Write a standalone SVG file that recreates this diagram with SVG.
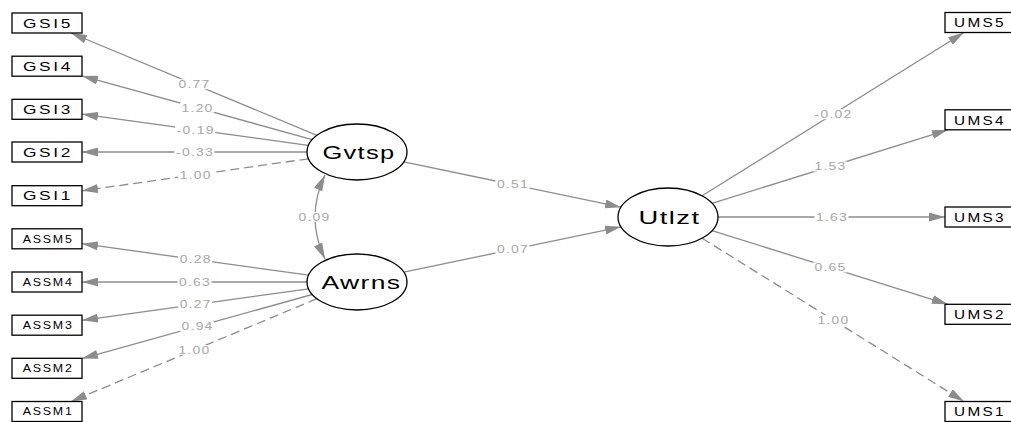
<svg xmlns="http://www.w3.org/2000/svg" width="1011" height="422" viewBox="0 0 1011 422">
<defs>
<style>
.box{fill:#fff;stroke:#000;stroke-width:1.3}
.lat{fill:#fff;stroke:#000;stroke-width:1.3}
.bt{font-family:"Liberation Sans",Arial,sans-serif;font-size:13px;letter-spacing:2px;fill:#000;text-anchor:middle}
.bs{font-family:"Liberation Sans",Arial,sans-serif;font-size:10.5px;letter-spacing:1.5px;fill:#000;text-anchor:middle}
.lt{font-family:"Liberation Sans",Arial,sans-serif;font-size:19px;letter-spacing:1px;fill:#000;text-anchor:middle}
.e{fill:none;stroke:#8c8c8c;stroke-width:1.3;marker-end:url(#ah)}
.d{stroke-dasharray:9 5}
.lb{fill:#fff}
.el{font-family:"Liberation Sans",Arial,sans-serif;font-size:11px;letter-spacing:1px;fill:#a6a6a6;text-anchor:middle}
</style>
<marker id="ah" viewBox="0 0 16 9" refX="16" refY="4.5" markerWidth="16" markerHeight="9" markerUnits="userSpaceOnUse" orient="auto-start-reverse">
<path d="M0,0 L16,4.5 L0,9 z" fill="#8c8c8c"/>
</marker>
</defs>
<rect width="1011" height="422" fill="#fff"/>
<g id="connectors">
<path class="e" d="M316.9,135.3 L71,33"/>
<path class="e" d="M312.2,139.6 L82,75.9"/>
<path class="e" d="M308.5,145.3 L82,114.1"/>
<path class="e" d="M307,152 L82,152"/>
<path class="e d" d="M308.5,158.8 L82,190.8"/>
<path class="e" d="M308.5,275.2 L82,243.7"/>
<path class="e" d="M307,282 L82,282"/>
<path class="e" d="M308.5,288.8 L82,320.3"/>
<path class="e" d="M312.2,294.5 L82,358.6"/>
<path class="e d" d="M316.9,298.7 L70.9,401.5"/>
<path class="e" d="M702.1,195.8 L964,32.5"/>
<path class="e" d="M712,203.3 L947.9,129.8"/>
<path class="e" d="M718,217 L945,217"/>
<path class="e" d="M712,230.7 L947.9,304.3"/>
<path class="e d" d="M702.1,238.2 L964,401.5"/>
<path class="e" d="M403.8,161.8 L621,207.2"/>
<path class="e" d="M403.8,272.2 L621,226.8"/>
<path class="e" d="M325,175 Q305,217 325,259" style="marker-start:url(#ah)"/>
<g id="edge-labels">
<rect class="lb" x="177" y="79.2" width="34" height="10"/><text class="el" x="194.5" y="88" textLength="32" lengthAdjust="spacingAndGlyphs">0.77</text>
<rect class="lb" x="180.1" y="102.7" width="34" height="10"/><text class="el" x="197.6" y="111.5" textLength="32" lengthAdjust="spacingAndGlyphs">1.20</text>
<rect class="lb" x="175.2" y="124.7" width="40" height="10"/><text class="el" x="195.7" y="133.5" textLength="38" lengthAdjust="spacingAndGlyphs">-0.19</text>
<rect class="lb" x="174.5" y="147" width="40" height="10"/><text class="el" x="195" y="155.8" textLength="38" lengthAdjust="spacingAndGlyphs">-0.33</text>
<rect class="lb" x="178.2" y="169.8" width="34" height="10"/><text class="el" x="195.7" y="178.6" textLength="32" lengthAdjust="spacingAndGlyphs">1.00</text>
<rect class="lb" x="178.2" y="254.5" width="34" height="10"/><text class="el" x="195.7" y="263.3" textLength="32" lengthAdjust="spacingAndGlyphs">0.28</text>
<rect class="lb" x="177.5" y="277" width="34" height="10"/><text class="el" x="195" y="285.8" textLength="32" lengthAdjust="spacingAndGlyphs">0.63</text>
<rect class="lb" x="178.2" y="299.5" width="34" height="10"/><text class="el" x="195.7" y="308.3" textLength="32" lengthAdjust="spacingAndGlyphs">0.27</text>
<rect class="lb" x="180.1" y="321.5" width="34" height="10"/><text class="el" x="197.6" y="330.3" textLength="32" lengthAdjust="spacingAndGlyphs">0.94</text>
<rect class="lb" x="176.9" y="345.1" width="34" height="10"/><text class="el" x="194.4" y="353.9" textLength="32" lengthAdjust="spacingAndGlyphs">1.00</text>
<rect class="lb" x="813" y="109.2" width="40" height="10"/><text class="el" x="833.5" y="118" textLength="38" lengthAdjust="spacingAndGlyphs">-0.02</text>
<rect class="lb" x="813" y="161.5" width="34" height="10"/><text class="el" x="830.5" y="170.3" textLength="32" lengthAdjust="spacingAndGlyphs">1.53</text>
<rect class="lb" x="814.5" y="212" width="34" height="10"/><text class="el" x="832" y="220.8" textLength="32" lengthAdjust="spacingAndGlyphs">1.63</text>
<rect class="lb" x="813" y="262.5" width="34" height="10"/><text class="el" x="830.5" y="271.3" textLength="32" lengthAdjust="spacingAndGlyphs">0.65</text>
<rect class="lb" x="816" y="314.9" width="34" height="10"/><text class="el" x="833.5" y="323.7" textLength="32" lengthAdjust="spacingAndGlyphs">1.00</text>
<rect class="lb" x="495.4" y="179.5" width="34" height="10"/><text class="el" x="512.9" y="188.3" textLength="32" lengthAdjust="spacingAndGlyphs">0.51</text>
<rect class="lb" x="495.4" y="244.5" width="34" height="10"/><text class="el" x="512.9" y="253.3" textLength="32" lengthAdjust="spacingAndGlyphs">0.07</text>
<rect class="lb" x="297" y="212" width="34" height="10"/><text class="el" x="314.5" y="220.8" textLength="32" lengthAdjust="spacingAndGlyphs">0.09</text>
</g>
</g>
<g id="GSI5"><rect class="box" x="12" y="13" width="70" height="20"/><text class="bt" x="48" y="27.7" textLength="50" lengthAdjust="spacingAndGlyphs">GSI5</text></g>
<g id="GSI4"><rect class="box" x="12" y="56.2" width="70" height="20"/><text class="bt" x="48" y="70.9" textLength="50" lengthAdjust="spacingAndGlyphs">GSI4</text></g>
<g id="GSI3"><rect class="box" x="12" y="99.3" width="70" height="20"/><text class="bt" x="48" y="114" textLength="50" lengthAdjust="spacingAndGlyphs">GSI3</text></g>
<g id="GSI2"><rect class="box" x="12" y="142" width="70" height="20"/><text class="bt" x="48" y="156.7" textLength="50" lengthAdjust="spacingAndGlyphs">GSI2</text></g>
<g id="GSI1"><rect class="box" x="12" y="185.7" width="70" height="20"/><text class="bt" x="48" y="200.4" textLength="50" lengthAdjust="spacingAndGlyphs">GSI1</text></g>
<g id="ASSM5"><rect class="box" x="12" y="228.8" width="70" height="20"/><text class="bs" x="48.2" y="242.6" textLength="51" lengthAdjust="spacingAndGlyphs">ASSM5</text></g>
<g id="ASSM4"><rect class="box" x="12" y="272" width="70" height="20"/><text class="bs" x="48.2" y="285.8" textLength="51" lengthAdjust="spacingAndGlyphs">ASSM4</text></g>
<g id="ASSM3"><rect class="box" x="12" y="315.2" width="70" height="20"/><text class="bs" x="48.2" y="329" textLength="51" lengthAdjust="spacingAndGlyphs">ASSM3</text></g>
<g id="ASSM2"><rect class="box" x="12" y="358.3" width="70" height="20"/><text class="bs" x="48.2" y="372.1" textLength="51" lengthAdjust="spacingAndGlyphs">ASSM2</text></g>
<g id="ASSM1"><rect class="box" x="12" y="401.5" width="70" height="20"/><text class="bs" x="48.2" y="415.3" textLength="51" lengthAdjust="spacingAndGlyphs">ASSM1</text></g>
<g id="UMS5"><rect class="box" x="945" y="12.5" width="70" height="20"/><text class="bt" x="980" y="27.2" textLength="52" lengthAdjust="spacingAndGlyphs">UMS5</text></g>
<g id="UMS4"><rect class="box" x="945" y="109.8" width="70" height="20"/><text class="bt" x="980" y="124.5" textLength="52" lengthAdjust="spacingAndGlyphs">UMS4</text></g>
<g id="UMS3"><rect class="box" x="945" y="207" width="70" height="20"/><text class="bt" x="980" y="221.7" textLength="52" lengthAdjust="spacingAndGlyphs">UMS3</text></g>
<g id="UMS2"><rect class="box" x="945" y="304.3" width="70" height="20"/><text class="bt" x="980" y="319" textLength="52" lengthAdjust="spacingAndGlyphs">UMS2</text></g>
<g id="UMS1"><rect class="box" x="945" y="401.5" width="70" height="20"/><text class="bt" x="980" y="416.2" textLength="52" lengthAdjust="spacingAndGlyphs">UMS1</text></g>
<g id="Gvtsp"><ellipse class="lat" cx="357" cy="152" rx="50" ry="28"/><text class="lt" x="359" y="159" textLength="73" lengthAdjust="spacingAndGlyphs">Gvtsp</text></g>
<g id="Awrns"><ellipse class="lat" cx="357" cy="282" rx="50" ry="28"/><text class="lt" x="361.5" y="289" textLength="80" lengthAdjust="spacingAndGlyphs">Awrns</text></g>
<g id="Utlzt"><ellipse class="lat" cx="668" cy="217" rx="50" ry="29"/><text class="lt" x="669.5" y="224" textLength="62" lengthAdjust="spacingAndGlyphs">Utlzt</text></g>
</svg>
